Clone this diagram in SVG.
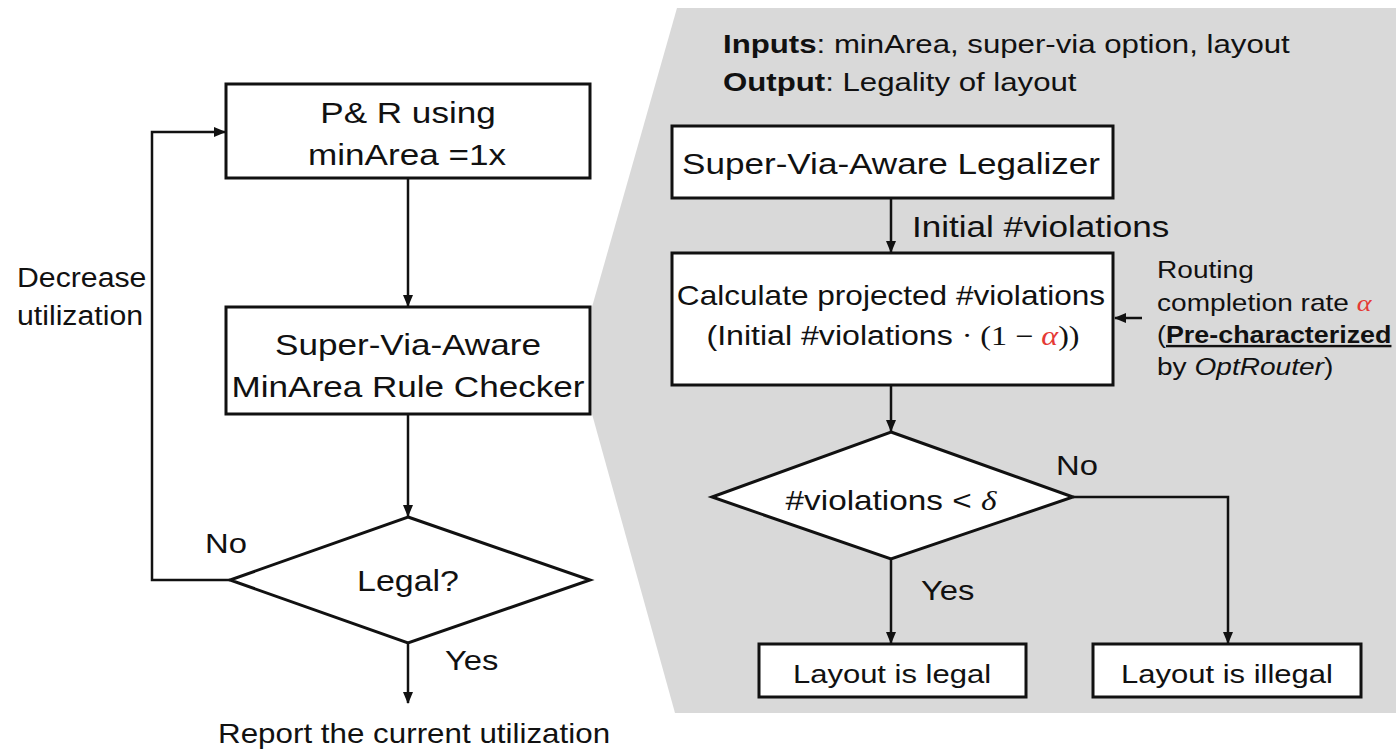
<svg xmlns="http://www.w3.org/2000/svg" width="1396" height="750" viewBox="0 0 1396 750">
<defs>
<style>
text{font-family:"Liberation Sans",Arial,sans-serif;fill:#111}
.box{fill:#fff;stroke:#111;stroke-width:3}
.ln{fill:none;stroke:#111;stroke-width:2.5}
.m{text-anchor:middle}
.math{font-family:"Liberation Serif","Times New Roman",serif}
.red{fill:#e53935;font-style:italic}
</style>
<marker id="ah" markerUnits="userSpaceOnUse" markerWidth="12" markerHeight="10" refX="11" refY="5" orient="auto">
<path d="M0,0 L12,5 L0,10 Z" fill="#111"/>
</marker>
</defs>
<rect width="1396" height="750" fill="#fff"/>
<polygon id="panel" points="677,8 1396,8 1396,713 675,713 592,414 592,307" fill="#d9d9d9"/>

<g id="connectors">
<line class="ln" x1="408" y1="179" x2="408" y2="306" marker-end="url(#ah)"/>
<line class="ln" x1="408" y1="415" x2="408" y2="516" marker-end="url(#ah)"/>
<line class="ln" x1="408" y1="643" x2="408" y2="703" marker-end="url(#ah)"/>
<polyline class="ln" points="230,580 152,580 152,132 225,132" marker-end="url(#ah)"/>
<line class="ln" x1="891" y1="199" x2="891" y2="252" marker-end="url(#ah)"/>
<line class="ln" x1="1142" y1="318" x2="1115" y2="318" marker-end="url(#ah)"/>
<line class="ln" x1="891" y1="386" x2="891" y2="431" marker-end="url(#ah)"/>
<line class="ln" x1="891" y1="559" x2="891" y2="643" marker-end="url(#ah)"/>
<polyline class="ln" points="1073,497 1228,497 1228,643" marker-end="url(#ah)"/>
</g>

<g id="pr">
<rect class="box" x="226" y="84" width="364" height="94"/>
<text class="m" font-size="30" transform="translate(408,123) scale(1.17,1)">P&amp; R using</text>
<text class="m" font-size="30" transform="translate(407,165) scale(1.17,1)">minArea =1x</text>
</g>
<g id="checker">
<rect class="box" x="226" y="307" width="364" height="107"/>
<text class="m" font-size="30" transform="translate(408,355) scale(1.17,1)">Super-Via-Aware</text>
<text class="m" font-size="30" transform="translate(408,397) scale(1.17,1)">MinArea Rule Checker</text>
</g>
<g id="legal">
<polygon class="box" points="408,517 590,580 408,643 230,580"/>
<text class="m" font-size="29" transform="translate(408,591) scale(1.17,1)">Legal?</text>
</g>
<g id="left-labels">
<text font-size="27" transform="translate(17,287) scale(1.12,1)">Decrease</text>
<text font-size="27" transform="translate(17,325) scale(1.12,1)">utilization</text>
<text font-size="28" transform="translate(205,553) scale(1.17,1)">No</text>
<text font-size="28" transform="translate(445,670) scale(1.17,1)">Yes</text>
</g>
<g id="report">
<text font-size="28" transform="translate(218,743) scale(1.12,1)">Report the current utilization</text>
</g>

<g id="io">
<text font-size="26" transform="translate(723,53) scale(1.2,1)"><tspan font-weight="bold">Inputs</tspan>: minArea, super-via option, layout</text>
<text font-size="26" transform="translate(723,91) scale(1.2,1)"><tspan font-weight="bold">Output</tspan>: Legality of layout</text>
</g>
<g id="legalizer">
<rect class="box" x="672" y="126" width="441" height="72"/>
<text class="m" font-size="30" transform="translate(891,174) scale(1.17,1)">Super-Via-Aware Legalizer</text>
</g>
<g id="initial-label">
<text font-size="30" transform="translate(912,237) scale(1.17,1)">Initial #violations</text>
</g>
<g id="calc">
<rect class="box" x="672" y="253" width="441" height="132"/>
<text class="m" font-size="27" transform="translate(891,305) scale(1.17,1)">Calculate projected #violations</text>
<text class="m" font-size="27" transform="translate(893,345) scale(1.19,1)">(Initial #violations <tspan class="math">· (1 − </tspan><tspan class="math red">α</tspan><tspan class="math">))</tspan></text>
</g>
<g id="routing-note">
<text font-size="24" transform="translate(1157,278) scale(1.17,1)">Routing</text>
<text font-size="24" transform="translate(1157,311) scale(1.17,1)">completion rate <tspan class="math red">α</tspan></text>
<text font-size="24" transform="translate(1157,343) scale(1.12,1)">(<tspan font-weight="bold" text-decoration="underline">Pre-characterized</tspan></text>
<text font-size="24" transform="translate(1157,375) scale(1.17,1)">by <tspan font-style="italic">OptRouter</tspan>)</text>
</g>
<g id="violations-check">
<polygon class="box" points="891,432 1073,497 891,559 712,497"/>
<text class="m" font-size="28" transform="translate(891,510) scale(1.19,1)">#violations &lt; <tspan class="math" font-style="italic">δ</tspan></text>
</g>
<g id="right-labels">
<text font-size="28" transform="translate(1056,475) scale(1.17,1)">No</text>
<text font-size="28" transform="translate(921,600) scale(1.17,1)">Yes</text>
</g>
<g id="is-legal">
<rect class="box" x="759" y="644" width="267" height="53"/>
<text class="m" font-size="26.5" transform="translate(892,683) scale(1.17,1)">Layout is legal</text>
</g>
<g id="is-illegal">
<rect class="box" x="1093" y="644" width="268" height="53"/>
<text class="m" font-size="26.5" transform="translate(1227,683) scale(1.17,1)">Layout is illegal</text>
</g>
</svg>
